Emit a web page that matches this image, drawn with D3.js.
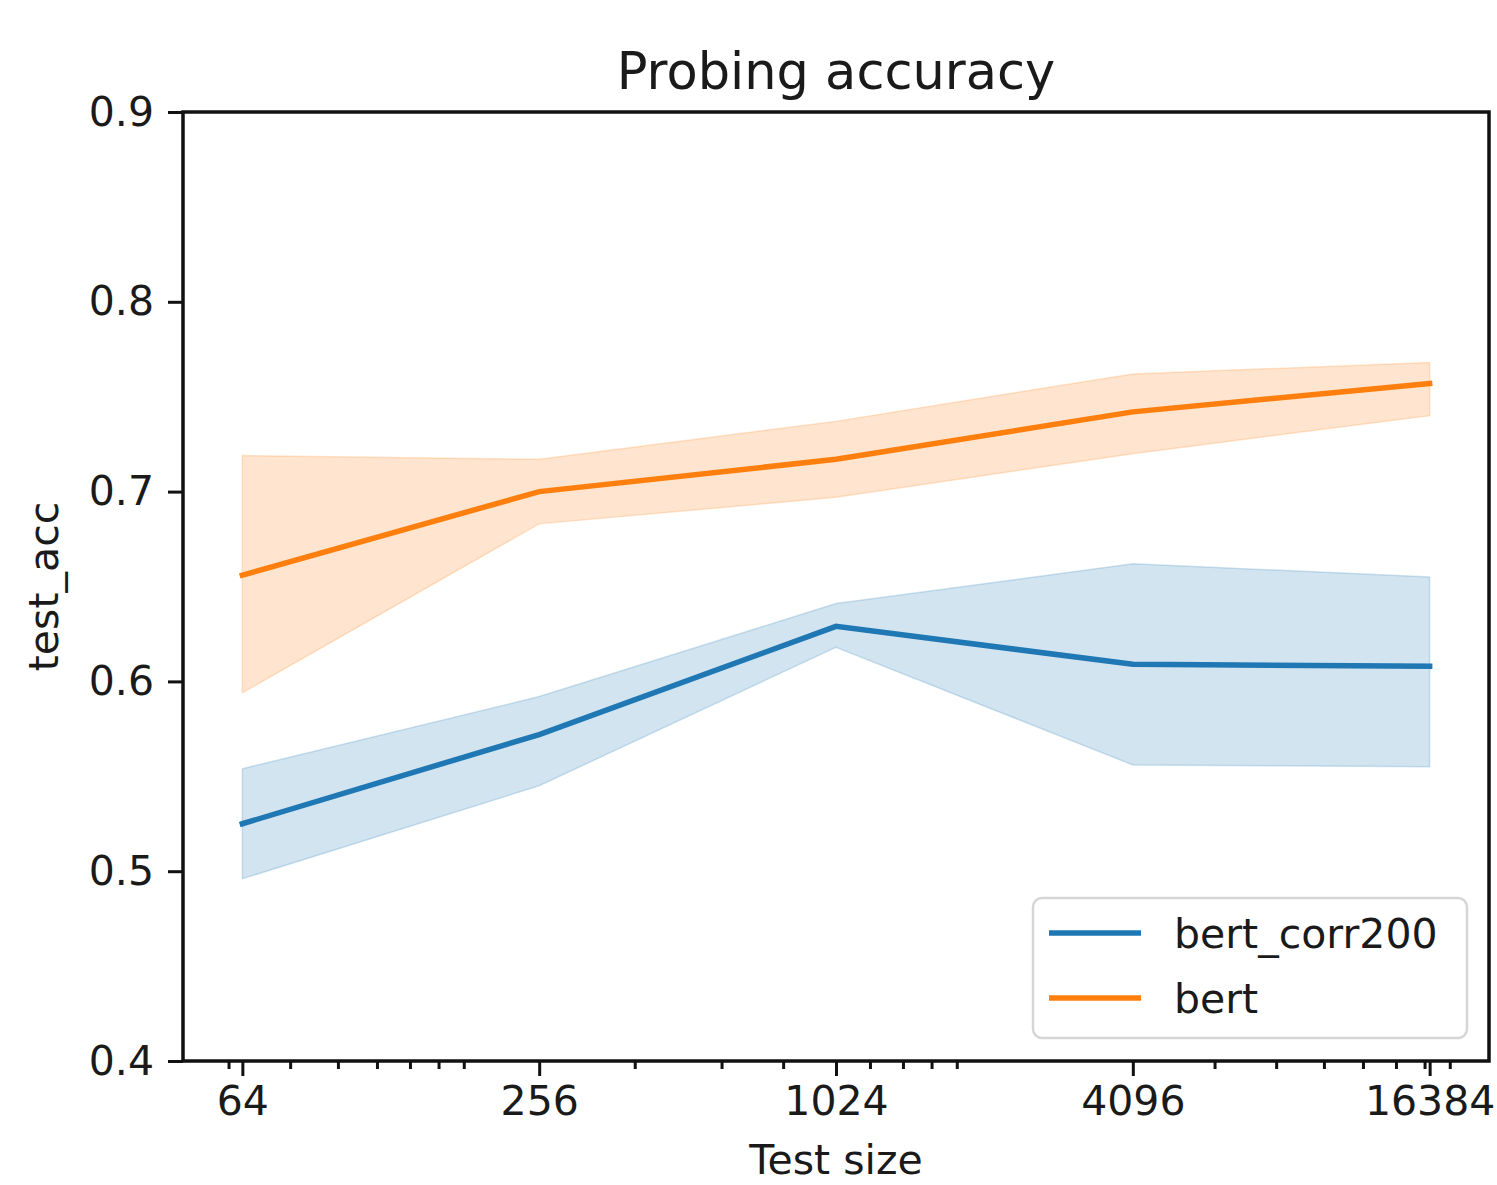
<!DOCTYPE html>
<html>
<head>
<meta charset="utf-8">
<script src="https://cdn.jsdelivr.net/npm/d3@7"></script>
<style>
  body { margin: 0; background: #fff; }
  svg { display: block; font-family: "DejaVu Sans", sans-serif; }
</style>
</head>
<body>
<div id="chart"></div>
<script>
const sizes = [64, 256, 1024, 4096, 16384];
const minorTicks = [60, 80, 100, 120, 140, 160, 180, 400, 600, 800, 1200, 1400, 1600, 1800,
  6000, 8000, 10000, 12000, 14000, 16000, 18000];
const yTicks = [0.4, 0.5, 0.6, 0.7, 0.8, 0.9];

const corrMean = [0.525, 0.572, 0.629, 0.609, 0.608];
const corrLow = [0.496, 0.545, 0.618, 0.556, 0.555];
const corrHigh = [0.554, 0.592, 0.641, 0.662, 0.655];

const bertMean = [0.656, 0.700, 0.717, 0.742, 0.757];
const bertLow = [0.594, 0.683, 0.697, 0.720, 0.740];
const bertHigh = [0.719, 0.717, 0.737, 0.762, 0.768];

const seriesNames = ["bert_corr200", "bert"];
const colors = ["#1f77b4", "#ff7f0e"];

const width = 1497, height = 1185;
const margin = {left: 183, right: 8, top: 112, bottom: 124};

const svg = d3.select("#chart").append("svg")
  .attr("width", width)
  .attr("height", height);

const x = d3.scaleLog().base(2)
  .domain([64 / Math.pow(2, 0.4), 16384 * Math.pow(2, 0.4)])
  .range([margin.left, width - margin.right]);

const y = d3.scaleLinear()
  .domain([0.4, 0.9])
  .range([height - margin.bottom, margin.top]);

const series = [
  {mean: corrMean, low: corrLow, high: corrHigh},
  {mean: bertMean, low: bertLow, high: bertHigh}
];

const area = d3.area()
  .x((d, i) => x(sizes[i]))
  .y0(d => y(d[0]))
  .y1(d => y(d[1]));

const line = d3.line()
  .x((d, i) => x(sizes[i]))
  .y(d => y(d));

// bands first, then lines
series.forEach((s, k) => {
  svg.append("path")
    .datum(s.low.map((v, i) => [v, s.high[i]]))
    .attr("d", area)
    .attr("fill", colors[k])
    .attr("fill-opacity", 0.2)
    .attr("stroke", colors[k])
    .attr("stroke-opacity", 0.2)
    .attr("stroke-width", 1.5);
});

series.forEach((s, k) => {
  svg.append("path")
    .datum(s.mean)
    .attr("d", line)
    .attr("fill", "none")
    .attr("stroke", colors[k])
    .attr("stroke-width", 5.5)
    .attr("stroke-linecap", "square");
});

// axes
const plotBottom = height - margin.bottom;

const xAxis = svg.append("g")
  .attr("transform", `translate(0,${plotBottom})`)
  .call(d3.axisBottom(x).tickValues(sizes).tickFormat(d3.format("d")).tickSize(15).tickPadding(10));

svg.append("g")
  .attr("transform", `translate(0,${plotBottom})`)
  .call(d3.axisBottom(x).tickValues(minorTicks).tickFormat("").tickSize(8))
  .call(g => g.select(".domain").remove());

const yAxis = svg.append("g")
  .attr("transform", `translate(${margin.left},0)`)
  .call(d3.axisLeft(y).tickValues(yTicks).tickFormat(d3.format(".1f")).tickSize(15).tickPadding(14));

[xAxis, yAxis].forEach(g => {
  g.select(".domain").remove();
  g.selectAll(".tick text")
    .attr("font-size", 41)
    .attr("font-family", "DejaVu Sans")
    .attr("fill", "#1a1a1a");
});
svg.selectAll(".tick line").attr("stroke", "#111").attr("stroke-width", 3);

// frame
svg.append("rect")
  .attr("x", margin.left)
  .attr("y", margin.top)
  .attr("width", width - margin.right - margin.left)
  .attr("height", plotBottom - margin.top)
  .attr("fill", "none")
  .attr("stroke", "#111")
  .attr("stroke-width", 3.5);

// title and labels
svg.append("text")
  .attr("x", (margin.left + width - margin.right) / 2)
  .attr("y", 89)
  .attr("text-anchor", "middle")
  .attr("font-size", 51)
  .attr("fill", "#1a1a1a")
  .text("Probing accuracy");

svg.append("text")
  .attr("x", (margin.left + width - margin.right) / 2)
  .attr("y", 1174)
  .attr("text-anchor", "middle")
  .attr("font-size", 41)
  .attr("fill", "#1a1a1a")
  .text("Test size");

svg.append("text")
  .attr("transform", `translate(58,${(margin.top + plotBottom) / 2}) rotate(-90)`)
  .attr("text-anchor", "middle")
  .attr("font-size", 41)
  .attr("fill", "#1a1a1a")
  .text("test_acc");

// legend
const legend = svg.append("g");
legend.append("rect")
  .attr("x", 1033)
  .attr("y", 898)
  .attr("width", 434)
  .attr("height", 140)
  .attr("rx", 9)
  .attr("fill", "#fff")
  .attr("fill-opacity", 0.8)
  .attr("stroke", "#d6d6d6")
  .attr("stroke-width", 2.5);

seriesNames.forEach((name, k) => {
  const ly = 933 + k * 65;
  legend.append("line")
    .attr("x1", 1049).attr("x2", 1141)
    .attr("y1", ly).attr("y2", ly)
    .attr("stroke", colors[k])
    .attr("stroke-width", 5.5);
  legend.append("text")
    .attr("x", 1174)
    .attr("y", ly + 15)
    .attr("font-size", 41)
    .attr("fill", "#1a1a1a")
    .text(name);
});
</script>
</body>
</html>
